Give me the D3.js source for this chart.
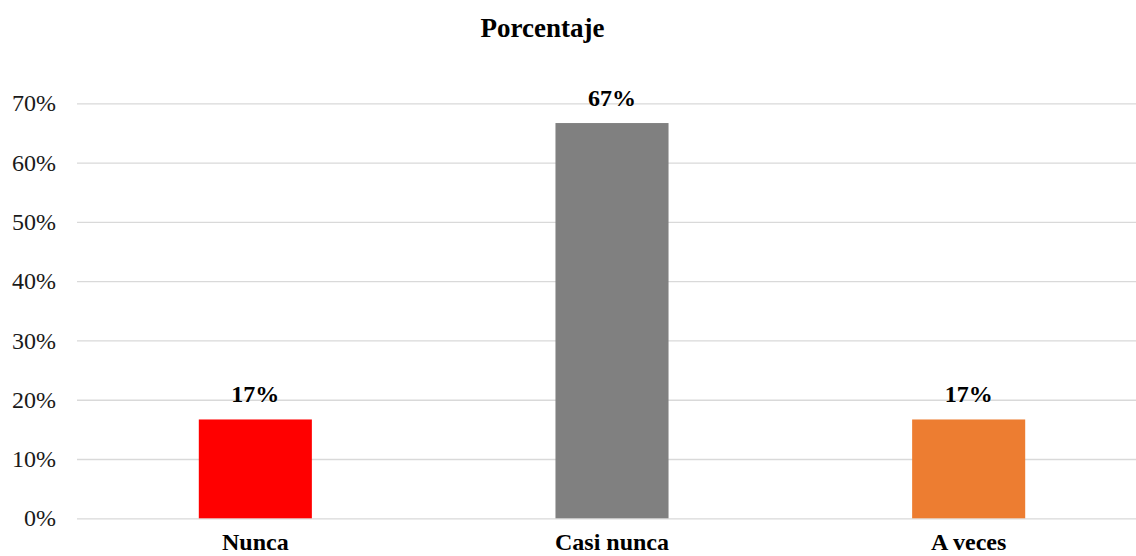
<!DOCTYPE html>
<html>
<head>
<meta charset="utf-8">
<script src="https://cdn.jsdelivr.net/npm/d3@7"></script>
<style>
  html, body { margin: 0; padding: 0; background: #fff; overflow: hidden; }
  svg text { font-family: "Times New Roman", "Liberation Serif", "DejaVu Serif", serif; }
</style>
</head>
<body>
<svg id="chart" width="1136" height="556"></svg>
<script>
const categories = ["Nunca", "Casi nunca", "A veces"];
const values = [0.1667, 0.6667, 0.1667];
const valueLabels = ["17%", "67%", "17%"];
const colors = ["#ff0000", "#808080", "#ed7d31"];
const yTicks = [0, 0.1, 0.2, 0.3, 0.4, 0.5, 0.6, 0.7];
const title = "Porcentaje";

const FONT = '"Times New Roman", "Liberation Serif", "DejaVu Serif", serif';
const svg = d3.select("#chart");
const mLeft = 77, mRight = 1147, mTop = 103.3, mBottom = 518.3;

const x = d3.scaleBand().domain(categories).range([mLeft, mRight])
  .paddingInner(0.683).paddingOuter(0.3415);
const y = d3.scaleLinear().domain([0, 0.7]).range([mBottom, mTop]);

// gridlines
const grid = d3.axisLeft(y).tickValues(yTicks).tickSize(-(mRight - mLeft)).tickFormat("");
svg.append("g").attr("transform", `translate(${mLeft},0)`).call(grid)
  .call(g => g.select(".domain").remove())
  .call(g => g.selectAll("line").attr("stroke", "#d9d9d9").attr("stroke-width", 1.3));

// y tick labels
const yAxis = d3.axisLeft(y).tickValues(yTicks).tickSize(0).tickPadding(21)
  .tickFormat(d3.format(".0%"));
svg.append("g").attr("transform", `translate(${mLeft},0)`).call(yAxis)
  .attr("font-family", FONT)
  .call(g => g.select(".domain").remove())
  .call(g => g.selectAll("text").attr("font-size", 24).attr("fill", "#1a1a1a")
    .style("font-family", FONT));

// bars
svg.append("g").selectAll("rect").data(categories).join("rect")
  .attr("x", d => x(d))
  .attr("width", x.bandwidth())
  .attr("y", (d, i) => y(values[i]))
  .attr("height", (d, i) => y(0) - y(values[i]))
  .attr("fill", (d, i) => colors[i]);

// value labels
svg.append("g").selectAll("text").data(categories).join("text")
  .attr("x", d => x(d) + x.bandwidth() / 2)
  .attr("y", (d, i) => y(values[i]) - 17)
  .attr("text-anchor", "middle")
  .style("font-family", FONT)
  .attr("font-size", 24).attr("font-weight", "bold").attr("fill", "#000")
  .text((d, i) => valueLabels[i]);

// x axis labels
const xAxis = d3.axisBottom(x).tickSize(0).tickPadding(15);
svg.append("g").attr("transform", `translate(0,${mBottom})`).call(xAxis)
  .attr("font-family", FONT)
  .call(g => g.select(".domain").remove())
  .call(g => g.selectAll("text").attr("font-size", 24).attr("font-weight", "bold")
    .attr("fill", "#000").style("font-family", FONT));

// title
svg.append("text").attr("x", 542.5).attr("y", 37).attr("text-anchor", "middle")
  .style("font-family", FONT)
  .attr("font-size", 27).attr("font-weight", "bold").attr("fill", "#000").text(title);
</script>
</body>
</html>
